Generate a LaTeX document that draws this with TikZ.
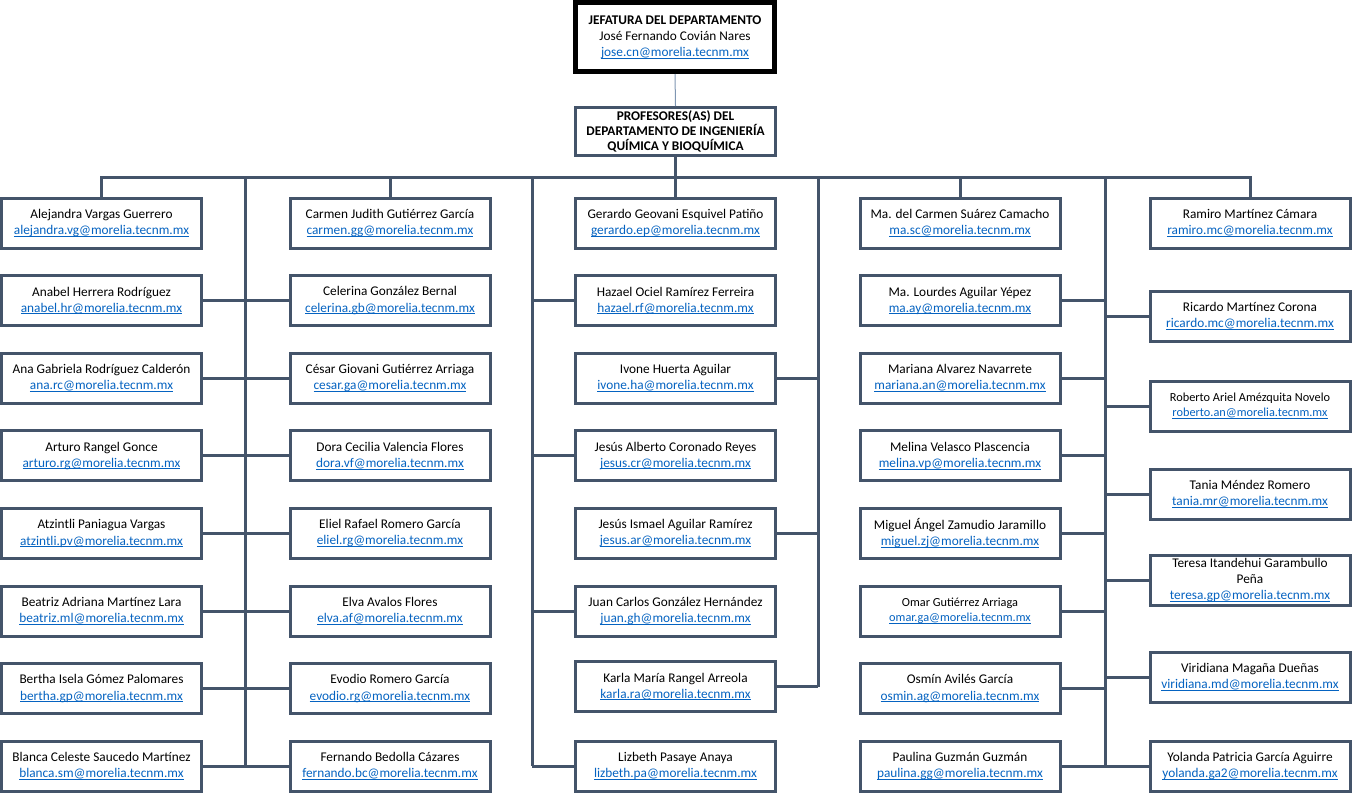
\documentclass[tikz,border=0pt]{standalone}
\usepackage{fontspec}
\setmainfont{Carlito}
\definecolor{slate}{HTML}{44546A}
\definecolor{linkblue}{HTML}{0563C1}
\definecolor{thinline}{HTML}{7F96B2}
\newcommand\ml[1]{{\color{linkblue}\setbox0\hbox{#1}\rlap{\rule[-2pt]{\wd0}{0.9pt}}\box0}}
\tikzset{
  pbox/.style={draw=slate, line width=3pt, fill=white, minimum width=200pt, minimum height=50pt,
    inner sep=1pt, align=center, font=\fontsize{13.3}{16.2}\selectfont},
  smalltext/.style={font=\fontsize{12.3}{15.2}\selectfont},
  bossbox/.style={draw=black, line width=5pt, fill=white, minimum width=199pt, minimum height=69pt,
    inner sep=1pt, align=center, font=\fontsize{13.3}{16.2}\selectfont},
  headbox/.style={draw=slate, line width=3pt, fill=white, minimum width=200pt, minimum height=48pt,
    inner sep=1pt, align=center, font=\bfseries\fontsize{13.3}{15}\selectfont},
  conn/.style={draw=slate, line width=3pt},
  thinconn/.style={draw=thinline, line width=1pt},
}
\begin{document}
\begin{tikzpicture}[x=1pt,y=-1pt]
\useasboundingbox (0,0) rectangle (1354,793);
% top
\node[bossbox] (boss) at (675,37) {\textbf{JEFATURA DEL DEPARTAMENTO}\\José Fernando Covián Nares\\\ml{jose.cn@morelia.tecnm.mx}};
\node[headbox] (prof) at (675.5,131.5) {PROFESORES(AS) DEL\\DEPARTAMENTO DE INGENIERÍA\\QUÍMICA Y BIOQUÍMICA};
% column 1
\node[pbox] (a1) at (101.5,223) {Alejandra Vargas Guerrero\\\ml{alejandra.vg@morelia.tecnm.mx}};
\node[pbox] (a2) at (101.5,300.6) {Anabel Herrera Rodríguez\\\ml{anabel.hr@morelia.tecnm.mx}};
\node[pbox] (a3) at (101.5,378.2) {Ana Gabriela Rodríguez Calderón\\\ml{ana.rc@morelia.tecnm.mx}};
\node[pbox] (a4) at (101.5,455.8) {Arturo Rangel Gonce\\\ml{arturo.rg@morelia.tecnm.mx}};
\node[pbox] (a5) at (101.5,533.4) {Atzintli Paniagua Vargas\\\ml{atzintli.pv@morelia.tecnm.mx}};
\node[pbox] (a6) at (101.5,611) {Beatriz Adriana Martínez Lara\\\ml{beatriz.ml@morelia.tecnm.mx}};
\node[pbox] (a7) at (101.5,688.6) {Bertha Isela Gómez Palomares\\\ml{bertha.gp@morelia.tecnm.mx}};
\node[pbox] (a8) at (101.5,766.2) {Blanca Celeste Saucedo Martínez\\\ml{blanca.sm@morelia.tecnm.mx}};
% column 2
\node[pbox] (b1) at (390,223) {Carmen Judith Gutiérrez García\\\ml{carmen.gg@morelia.tecnm.mx}};
\node[pbox] (b2) at (390,300.6) {Celerina González Bernal\\\ml{celerina.gb@morelia.tecnm.mx}};
\node[pbox] (b3) at (390,378.2) {César Giovani Gutiérrez Arriaga\\\ml{cesar.ga@morelia.tecnm.mx}};
\node[pbox] (b4) at (390,455.8) {Dora Cecilia Valencia Flores\\\ml{dora.vf@morelia.tecnm.mx}};
\node[pbox] (b5) at (390,533.4) {Eliel Rafael Romero García\\\ml{eliel.rg@morelia.tecnm.mx}};
\node[pbox] (b6) at (390,611) {Elva Avalos Flores\\\ml{elva.af@morelia.tecnm.mx}};
\node[pbox] (b7) at (390,688.6) {Evodio Romero García\\\ml{evodio.rg@morelia.tecnm.mx}};
\node[pbox] (b8) at (390,766.2) {Fernando Bedolla Cázares\\\ml{fernando.bc@morelia.tecnm.mx}};
% column 3
\node[pbox] (c1) at (675.5,223) {Gerardo Geovani Esquivel Patiño\\\ml{gerardo.ep@morelia.tecnm.mx}};
\node[pbox] (c2) at (675.5,300.6) {Hazael Ociel Ramírez Ferreira\\\ml{hazael.rf@morelia.tecnm.mx}};
\node[pbox] (c3) at (675.5,378.2) {Ivone Huerta Aguilar\\\ml{ivone.ha@morelia.tecnm.mx}};
\node[pbox] (c4) at (675.5,455.8) {Jesús Alberto Coronado Reyes\\\ml{jesus.cr@morelia.tecnm.mx}};
\node[pbox] (c5) at (675.5,533.4) {Jesús Ismael Aguilar Ramírez\\\ml{jesus.ar@morelia.tecnm.mx}};
\node[pbox] (c6) at (675.5,611) {Juan Carlos González Hernández\\\ml{juan.gh@morelia.tecnm.mx}};
\node[pbox] (c7) at (675.5,686.5) {Karla María Rangel Arreola\\\ml{karla.ra@morelia.tecnm.mx}};
\node[pbox] (c8) at (675.5,766.2) {Lizbeth Pasaye Anaya\\\ml{lizbeth.pa@morelia.tecnm.mx}};
% column 4
\node[pbox] (d1) at (960,223) {Ma. del Carmen Suárez Camacho\\\ml{ma.sc@morelia.tecnm.mx}};
\node[pbox] (d2) at (960,300.6) {Ma. Lourdes Aguilar Yépez\\\ml{ma.ay@morelia.tecnm.mx}};
\node[pbox] (d3) at (960,378.2) {Mariana Alvarez Navarrete\\\ml{mariana.an@morelia.tecnm.mx}};
\node[pbox] (d4) at (960,455.8) {Melina Velasco Plascencia\\\ml{melina.vp@morelia.tecnm.mx}};
\node[pbox] (d5) at (960,533.4) {Miguel Ángel Zamudio Jaramillo\\\ml{miguel.zj@morelia.tecnm.mx}};
\node[pbox,smalltext] (d6) at (960,611) {Omar Gutiérrez Arriaga\\\ml{omar.ga@morelia.tecnm.mx}};
\node[pbox] (d7) at (960,688.6) {Osmín Avilés García\\\ml{osmin.ag@morelia.tecnm.mx}};
\node[pbox] (d8) at (960,766.2) {Paulina Guzmán Guzmán\\\ml{paulina.gg@morelia.tecnm.mx}};
% column 5
\node[pbox] (e1) at (1250,223) {Ramiro Martínez Cámara\\\ml{ramiro.mc@morelia.tecnm.mx}};
\node[pbox] (e2) at (1250,316) {Ricardo Martínez Corona\\\ml{ricardo.mc@morelia.tecnm.mx}};
\node[pbox,smalltext] (e3) at (1250,406) {Roberto Ariel Amézquita Novelo\\\ml{roberto.an@morelia.tecnm.mx}};
\node[pbox] (e4) at (1250,494) {Tania Méndez Romero\\\ml{tania.mr@morelia.tecnm.mx}};
\node[pbox] (e5) at (1250,580) {Teresa Itandehui Garambullo\\Peña\\\ml{teresa.gp@morelia.tecnm.mx}};
\node[pbox] (e6) at (1250,677) {Viridiana Magaña Dueñas\\\ml{viridiana.md@morelia.tecnm.mx}};
\node[pbox] (e7) at (1250,766.2) {Yolanda Patricia García Aguirre\\\ml{yolanda.ga2@morelia.tecnm.mx}};
% coordinates
\coordinate (hub) at (675.5,177.5);
\coordinate (T1) at (245,177.5);
\coordinate (T2) at (532,177.5);
\coordinate (T3) at (818,177.5);
\coordinate (T4) at (1105,177.5);
% connectors
\draw[thinconn] (boss.south) -- (prof.north);
\draw[conn] (prof.south) -- (hub);
\draw[conn] (a1.north) -- (a1.north |- hub) -- (e1.north |- hub) -- (e1.north);
\draw[conn] (b1.north |- hub) -- (b1.north);
\draw[conn] (hub) -- (c1.north);
\draw[conn] (d1.north |- hub) -- (d1.north);
\draw[conn] (T1) -- (T1 |- a8.east);
\draw[conn] (T2) -- (T2 |- c8.west);
\draw[conn] (T3) -- (T3 |- c7.east);
\draw[conn] (T4) -- (T4 |- e7.west);
\foreach \n in {a2,a3,a4,a5,a6,a7,a8} {\draw[conn] (\n.east) -- (\n.east -| T1);}
\foreach \n in {b2,b3,b4,b5,b6,b7,b8} {\draw[conn] (\n.west) -- (\n.west -| T1);}
\foreach \n in {c2,c4,c6,c8} {\draw[conn] (\n.west) -- (\n.west -| T2);}
\foreach \n in {c3,c5,c7} {\draw[conn] (\n.east) -- (\n.east -| T3);}
\foreach \n in {d2,d3,d4,d5,d6,d7,d8} {\draw[conn] (\n.east) -- (\n.east -| T4);}
\foreach \n in {e2,e3,e4,e5,e6,e7} {\draw[conn] (\n.west) -- (\n.west -| T4);}
\end{tikzpicture}
\end{document}
